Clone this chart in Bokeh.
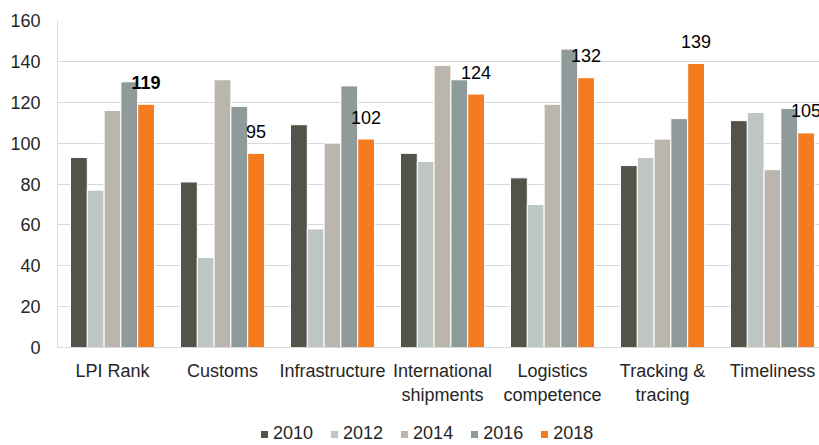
from bokeh.plotting import figure
from bokeh.layouts import column
from bokeh.models import (ColumnDataSource, Range1d, FixedTicker, Legend, LegendItem)
from bokeh.transform import dodge
from bokeh.embed import file_html
from bokeh.resources import INLINE

categories = ["LPI Rank", "Customs", "Infrastructure", "International\nshipments",
              "Logistics\ncompetence", "Tracking &\ntracing", "Timeliness"]
years = ["2010", "2012", "2014", "2016", "2018"]
v2010 = [93, 81, 109, 95, 83, 89, 111]
v2012 = [77, 44, 58, 91, 70, 93, 115]
v2014 = [116, 131, 100, 138, 119, 102, 87]
v2016 = [130, 118, 128, 131, 146, 112, 117]
v2018 = [119, 95, 102, 124, 132, 139, 105]
y_ticks = [0, 20, 40, 60, 80, 100, 120, 140, 160]

colors = ["#535349", "#BEC6C3", "#BAB6AE", "#8F9B9A", "#F47B20"]
FONT = "Liberation Sans"
TXT = "#262626"

xs = [i + 0.5 for i in range(len(categories))]
src = ColumnDataSource(dict(x=xs, y2010=v2010, y2012=v2012, y2014=v2014,
                            y2016=v2016, y2018=v2018,
                            lab=[str(v) for v in v2018],
                            style=["bold"] + ["normal"] * (len(v2018) - 1)))

FW = 762
p = figure(frame_width=FW, frame_height=327, output_backend="svg", toolbar_location=None,
           x_range=Range1d(0, FW / 110), y_range=Range1d(0, 160),
           min_border_left=57, min_border_right=0, min_border_top=20, min_border_bottom=72)
p.outline_line_color = None
p.background_fill_color = "white"
p.border_fill_color = "white"

step = 0.1527
renderers = []
for j, (yr, c) in enumerate(zip(years, colors)):
    r = p.vbar(x=dodge("x", (j - 2) * step, range=p.x_range), top="y" + yr, width=step,
               source=src, fill_color=c, line_color="white", line_width=1)
    renderers.append(r)

p.text(x=dodge("x", 2 * step, range=p.x_range), y="y2018", text="lab", source=src,
       text_align="center", text_baseline="middle", y_offset=-22,
       text_font={"value": FONT}, text_font_size={"value": "18px"},
       text_font_style="style", text_color="black")

p.xgrid.visible = False
p.ygrid.grid_line_color = "#D9D9D9"
p.ygrid.grid_line_width = 1
p.yaxis.ticker = FixedTicker(ticks=y_ticks)
p.xaxis.ticker = FixedTicker(ticks=xs)
p.xaxis.major_label_overrides = {x: c for x, c in zip(xs, categories)}

for ax in (p.xaxis[0], p.yaxis[0]):
    ax.major_tick_line_color = None
    ax.minor_tick_line_color = None
    ax.axis_line_color = "#D9D9D9"
    ax.axis_line_width = 1
    ax.major_label_text_font = FONT
    ax.major_label_text_font_size = "18px"
    ax.major_label_text_color = TXT
p.yaxis.major_label_standoff = 11
p.xaxis.major_label_standoff = 7

# separate strip below the chart holding the legend
lf = figure(width=57 + FW, height=25, output_backend="svg", toolbar_location=None,
            x_range=Range1d(0, 1), y_range=Range1d(0, 1),
            x_axis_location=None, y_axis_location=None, min_border=0)
lf.outline_line_color = None
lf.xgrid.visible = False
lf.ygrid.visible = False
leg_renderers = []
for yr, c in zip(years, colors):
    r = lf.vbar(x="x", top="y" + yr, width=step, source=src,
                fill_color=c, line_color="white", line_width=1, visible=False)
    leg_renderers.append(r)

legend = Legend(items=[LegendItem(label=yr, renderers=[r]) for yr, r in zip(years, leg_renderers)],
                orientation="horizontal", location=(202, 0),
                glyph_width=10, glyph_height=10, label_height=16, label_standoff=4,
                spacing=16, padding=0, margin=0,
                label_text_font=FONT, label_text_font_size="18px", label_text_color=TXT,
                border_line_color=None, background_fill_alpha=0)
lf.add_layout(legend, "center")

layout = column(p, lf, spacing=0)
open("out.html", "w").write(file_html(layout, INLINE))
